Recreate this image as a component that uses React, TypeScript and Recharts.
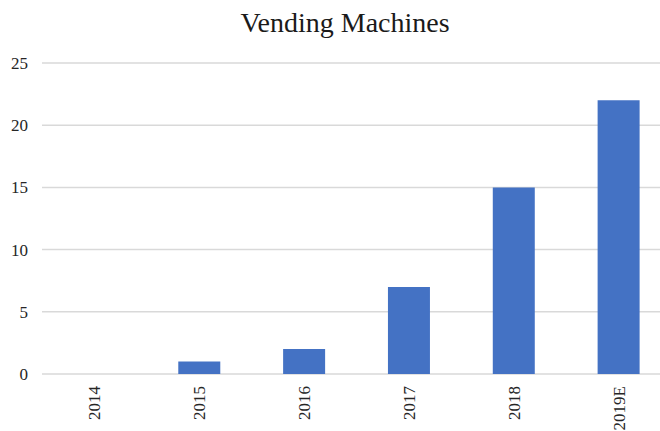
import { Bar, BarChart, CartesianGrid, XAxis, YAxis } from "recharts"

const years = ["2014", "2015", "2016", "2017", "2018", "2019E"]
const machines = [0, 1, 2, 7, 15, 22]
const yTicks = [0, 5, 10, 15, 20, 25]

const data = years.map((year, i) => ({ year, machines: machines[i] }))

const FONT = "'Liberation Serif', 'Times New Roman', serif"

function YearTick({ x, y, payload }: any) {
  return (
    <g transform={`translate(${x},${y})`}>
      <text
        x={0}
        y={0}
        dy="0.35em"
        textAnchor="end"
        transform="rotate(-90)"
        fill="#262626"
        style={{ fontFamily: FONT, fontSize: 17 }}
      >
        {payload.value}
      </text>
    </g>
  )
}

function ValueTick({ x, y, payload }: any) {
  return (
    <text
      x={x}
      y={y}
      dy="0.35em"
      textAnchor="end"
      fill="#262626"
      style={{ fontFamily: FONT, fontSize: 17 }}
    >
      {payload.value}
    </text>
  )
}

export default function App() {
  return (
    <div
      style={{
        position: "fixed",
        left: 0,
        top: 0,
        width: 660,
        height: 431,
        overflow: "hidden",
        background: "#fff",
        fontFamily: FONT,
      }}
    >
      <div
        style={{
          position: "absolute",
          top: 9,
          left: 0,
          width: 690,
          textAlign: "center",
          fontSize: 28,
          lineHeight: "28px",
          color: "#1a1a1a",
        }}
      >
        Vending Machines
      </div>
      <BarChart
        width={690}
        height={431}
        data={data}
        margin={{ top: 63, right: 19, left: 0, bottom: 0 }}
        barCategoryGap="30%"
      >
        <CartesianGrid vertical={false} stroke="#d9d9d9" strokeWidth={1.5} />
        <XAxis
          dataKey="year"
          height={57}
          axisLine={false}
          tickLine={false}
          tickSize={0}
          tickMargin={12}
          interval={0}
          tick={<YearTick />}
        />
        <YAxis
          width={42}
          domain={[0, 25]}
          ticks={yTicks}
          axisLine={false}
          tickLine={false}
          tickSize={0}
          tickMargin={14}
          tick={<ValueTick />}
        />
        <Bar dataKey="machines" fill="#4472C4" isAnimationActive={false} />
      </BarChart>
    </div>
  )
}
